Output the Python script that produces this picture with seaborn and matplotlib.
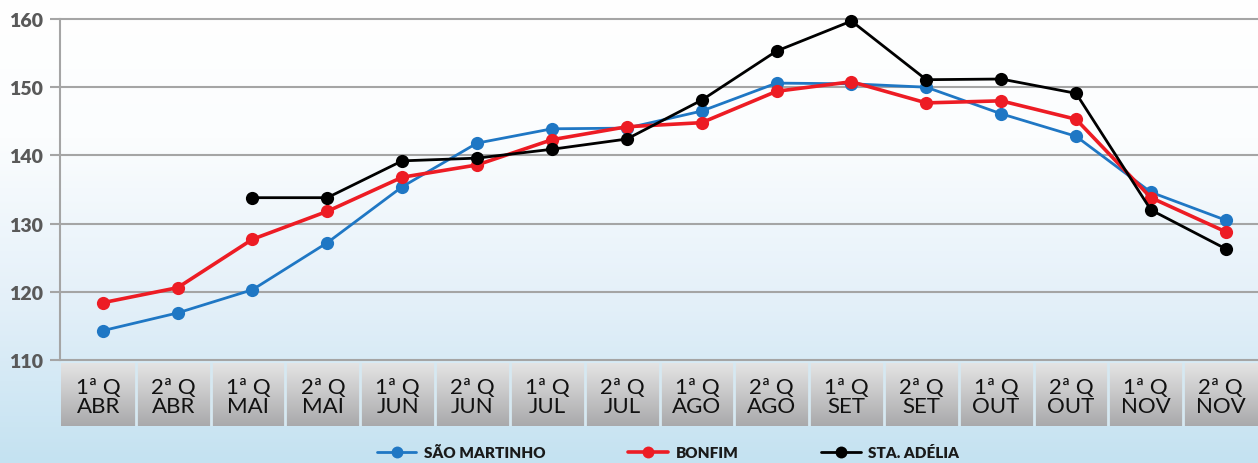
import numpy as np
import pandas as pd
import matplotlib
matplotlib.use("Agg")
import matplotlib.pyplot as plt
import seaborn as sns
from matplotlib.colors import LinearSegmentedColormap

# quinzenas (tick labels)
quinzenas = ["1ª Q", "2ª Q"] * 8
meses = ["ABR", "ABR", "MAI", "MAI", "JUN", "JUN", "JUL", "JUL",
         "AGO", "AGO", "SET", "SET", "OUT", "OUT", "NOV", "NOV"]

sao_martinho = [114.3, 116.9, 120.3, 127.2, 135.4, 141.8, 143.9, 144.0,
                146.5, 150.6, 150.5, 150.0, 146.1, 142.8, 134.6, 130.5]
bonfim = [118.4, 120.6, 127.7, 131.8, 136.8, 138.6, 142.3, 144.2,
          144.8, 149.4, 150.8, 147.7, 148.0, 145.3, 133.8, 128.8]
sta_adelia = [np.nan, np.nan, 133.8, 133.8, 139.2, 139.6, 140.9, 142.4,
              148.1, 155.3, 159.7, 151.1, 151.2, 149.1, 132.0, 126.3]

series = ["SÃO MARTINHO", "BONFIM", "STA. ADÉLIA"]
cores = {"SÃO MARTINHO": "#1f77c4", "BONFIM": "#ed1c24", "STA. ADÉLIA": "#000000"}
larguras = {"SÃO MARTINHO": 2.0, "BONFIM": 2.6, "STA. ADÉLIA": 2.0}

pos = np.arange(len(meses))
df = pd.DataFrame({
    "pos": np.tile(pos, 3),
    "valor": sao_martinho + bonfim + sta_adelia,
    "usina": np.repeat(series, len(pos)),
})

sns.set_theme(style="white")
plt.rcParams["font.family"] = ["Lato", "DejaVu Sans"]

W, H = 1258, 464
fig = plt.figure(figsize=(W / 100, H / 100), dpi=100)

# background gradient: white on top, light blue at the bottom
bg = fig.add_axes([0, 0, 1, 1], zorder=-10)
cmap_bg = LinearSegmentedColormap.from_list(
    "bg", [(0, "#c4e2f1"), (0.35, "#e4f0f9"), (0.7, "#fbfdfe"), (1, "#ffffff")])
grad = np.linspace(0, 1, 256).reshape(-1, 1)
bg.imshow(grad, aspect="auto", cmap=cmap_bg, extent=[0, 1, 0, 1], origin="lower")
bg.axis("off")

ax = fig.add_axes([60 / W, 103 / H, 1198 / W, 341 / H])
ax.patch.set_alpha(0)

for nome in series:
    sub = df[df["usina"] == nome].dropna()
    sns.lineplot(data=sub, x="pos", y="valor", ax=ax, color=cores[nome],
                 linewidth=larguras[nome], marker="o", markersize=9.5,
                 markeredgewidth=0, label=nome, clip_on=False, zorder=5)

# points sit a little right of the box centres in the original
ax.set_xlim(-0.57, 15.43)
ax.set_ylim(110, 160)
ax.set_yticks(np.arange(110, 161, 10))
for v in np.arange(110, 161, 10):
    ax.axhline(v, color="#a5a5a5", lw=1.5, clip_on=False, zorder=1)
ax.set_xticks([])
ax.set_xlabel("")
ax.set_ylabel("")
for s in ["top", "right", "bottom"]:
    ax.spines[s].set_visible(False)
ax.spines["left"].set_color("#a5a5a5")
ax.spines["left"].set_linewidth(1.5)
ax.tick_params(axis="y", left=True, length=7, width=1.5, color="#a5a5a5",
               pad=5, labelsize=14, labelcolor="#595959")
for t in ax.get_yticklabels():
    t.set_fontweight("heavy")

handles, labels = ax.get_legend_handles_labels()
ax.get_legend().remove()

# strip of grey boxes with the category labels
ax2 = fig.add_axes([61 / W, 37 / H, 1197 / W, 63 / H])
cmap_box = LinearSegmentedColormap.from_list("box", ["#a9a9ab", "#e4e4e4"])
ax2.imshow(grad, aspect="auto", cmap=cmap_box, extent=[-0.5, 15.5, 0, 1],
           origin="lower")
ax2.set_xlim(-0.5, 15.5)
ax2.set_ylim(0, 1)
for i in range(1, len(meses)):
    ax2.axvline(i - 0.5, color="#d6e8f1", lw=2)
for i, (q, m) in enumerate(zip(quinzenas, meses)):
    ax2.text(i, 0.47, f"{q}\n{m}", ha="center", va="center", fontsize=16,
             color="#111111", linespacing=0.98)
ax2.axis("off")

leg = fig.legend(handles, labels, loc="center", bbox_to_anchor=(668 / W, 11 / H),
                 ncol=3, frameon=False, handlelength=2.6, columnspacing=5.4,
                 handletextpad=0.5, markerscale=0.9,
                 prop={"weight": "heavy", "size": 11})
for t in leg.get_texts():
    t.set_color("#1a1a1a")

fig.savefig("out.png", dpi=100)
